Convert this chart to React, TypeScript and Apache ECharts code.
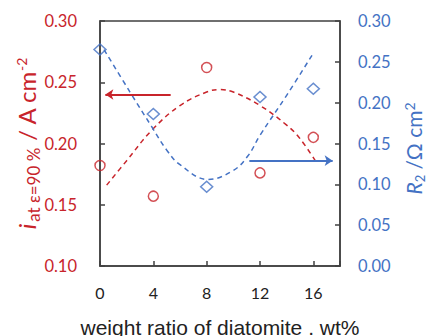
import React, { useEffect, useRef } from "react";
import * as echarts from "echarts";

const weightRatio = [0, 4, 8, 12, 16];
const currentDensity = [0.182, 0.157, 0.262, 0.176, 0.205];
const resistance = [0.265, 0.186, 0.097, 0.207, 0.217];

const currentTrendX = [0.5, 2, 3.9, 6, 8, 9, 10, 12, 14, 15, 16.2];
const currentTrendY = [0.166, 0.186, 0.211, 0.231, 0.242, 0.244, 0.242, 0.231, 0.215, 0.204, 0.185];
const resistanceTrendX = [0.3, 2.25, 3.9, 5, 6, 8.1, 10, 11.1, 12, 14, 15.9];
const resistanceTrendY = [0.265, 0.213, 0.17, 0.142, 0.124, 0.106, 0.117, 0.135, 0.16, 0.209, 0.258];

const currentArrow = [[5.3, 0.24], [0.4, 0.24]];
const resistanceArrow = [[11.2, 0.129], [17.45, 0.129]];

const RED = "#C8242B";
const BLUE = "#4472C4";
const AXIS = "#404040";

export default function App() {
  const ref = useRef<HTMLDivElement>(null);
  useEffect(() => {
    document.body.style.margin = "0";
    const chart = echarts.init(ref.current!, null, { renderer: "svg" });
    const zip = (xs: number[], ys: number[]) => xs.map((x, i) => [x, ys[i]]);
    chart.setOption({
      animation: false,
      grid: {
        left: 100,
        right: 88,
        top: 21,
        bottom: 70,
        containLabel: false,
        outerBoundsMode: "none",
        show: true,
        borderColor: AXIS,
        borderWidth: 1.5,
      },
      xAxis: {
        type: "value",
        min: 0,
        max: 18,
        interval: 4,
        axisLine: { lineStyle: { color: AXIS, width: 1.5 } },
        axisTick: { inside: true, length: 5, lineStyle: { color: AXIS, width: 1.5 } },
        axisLabel: {
          formatter: (v: number) => (v > 16 ? "" : String(v)),
          color: "#222",
          fontSize: 16,
          fontFamily: "Lato",
          margin: 18,
        },
        splitLine: { show: false },
        name: "weight ratio of diatomite . wt%",
        nameLocation: "middle",
        nameGap: 51,
        nameTextStyle: { fontSize: 21, fontFamily: "Liberation Sans", color: "#222" },
      },
      yAxis: [
        {
          type: "value",
          position: "left",
          min: 0.1,
          max: 0.3,
          interval: 0.05,
          axisLine: { show: true, lineStyle: { color: AXIS, width: 1.5 } },
          axisTick: { show: true, inside: true, length: 5, lineStyle: { color: AXIS, width: 1.5 } },
          axisLabel: {
            formatter: (v: number) => v.toFixed(2),
            color: RED,
            fontSize: 16.5,
            fontFamily: "Lato",
            margin: 23,
          },
          splitLine: { show: false },
          name: "{i|i}{sub|at ε=90 %}{main| / A cm}{sup|-2}",
          nameLocation: "middle",
          nameRotate: 90,
          nameGap: 58,
          nameMoveOverlap: false,
          nameTextStyle: {
            color: RED,
            fontFamily: "Lato",
            fontSize: 24,
            rich: {
              i: { fontSize: 24, fontStyle: "italic", color: RED, fontFamily: "Lato" },
              sub: { fontSize: 17, color: RED, fontFamily: "Lato", padding: [15, 0, 0, 2] },
              main: { fontSize: 24, color: RED, fontFamily: "Lato" },
              sup: { fontSize: 14, color: RED, fontFamily: "Lato", padding: [0, 0, 10, 0] },
            },
          },
        },
        {
          type: "value",
          position: "right",
          min: 0,
          max: 0.3,
          interval: 0.05,
          axisLine: { show: true, lineStyle: { color: AXIS, width: 1.5 } },
          axisTick: { show: true, inside: true, length: 5, lineStyle: { color: AXIS, width: 1.5 } },
          axisLabel: {
            formatter: (v: number) => v.toFixed(2),
            color: BLUE,
            fontSize: 16.5,
            fontFamily: "Lato",
            margin: 18,
          },
          splitLine: { show: false },
          name: "{r|R}{sub|2}{main| /Ω cm}{sup|2}",
          nameLocation: "middle",
          nameRotate: 90,
          nameGap: 60,
          nameMoveOverlap: false,
          nameTextStyle: {
            color: BLUE,
            fontFamily: "Lato",
            fontSize: 21,
            rich: {
              r: { fontSize: 21, fontStyle: "italic", color: BLUE, fontFamily: "Lato" },
              sub: { fontSize: 13, color: BLUE, fontFamily: "Lato", padding: [13, 0, 0, 0] },
              main: { fontSize: 21, color: BLUE, fontFamily: "Lato" },
              sup: { fontSize: 14, color: BLUE, fontFamily: "Lato", padding: [0, 10, 8, 0] },
            },
          },
        },
      ],
      series: [
        {
          type: "line",
          yAxisIndex: 0,
          data: zip(currentTrendX, currentTrendY),
          smooth: 0.4,
          showSymbol: false,
          symbol: "none",
          lineStyle: { color: RED, width: 1.5, type: [5, 4] },
          z: 2,
        },
        {
          type: "line",
          yAxisIndex: 1,
          data: zip(resistanceTrendX, resistanceTrendY),
          smooth: 0.4,
          showSymbol: false,
          symbol: "none",
          lineStyle: { color: BLUE, width: 1.5, type: [5, 4] },
          z: 2,
        },
        {
          type: "lines",
          coordinateSystem: "cartesian2d",
          yAxisIndex: 0,
          symbol: ["none", "arrow"],
          symbolSize: [0, 8],
          lineStyle: { color: RED, width: 2, opacity: 1 },
          data: [{ coords: currentArrow }],
          z: 3,
        },
        {
          type: "lines",
          coordinateSystem: "cartesian2d",
          yAxisIndex: 1,
          symbol: ["none", "arrow"],
          symbolSize: [0, 8],
          lineStyle: { color: BLUE, width: 2, opacity: 1 },
          data: [{ coords: resistanceArrow }],
          z: 3,
        },
        {
          type: "scatter",
          yAxisIndex: 0,
          data: zip(weightRatio, currentDensity),
          symbol: "circle",
          symbolSize: 10,
          itemStyle: { color: "rgba(0,0,0,0)", borderColor: RED, borderWidth: 1.5 },
          z: 4,
        },
        {
          type: "scatter",
          yAxisIndex: 1,
          data: zip(weightRatio, resistance),
          symbol: "diamond",
          symbolSize: [12, 11],
          itemStyle: { color: "rgba(0,0,0,0)", borderColor: BLUE, borderWidth: 1.5 },
          z: 4,
        },
      ],
    });
    return () => chart.dispose();
  }, []);
  return <div ref={ref} style={{ width: 428, height: 336 }} />;
}
